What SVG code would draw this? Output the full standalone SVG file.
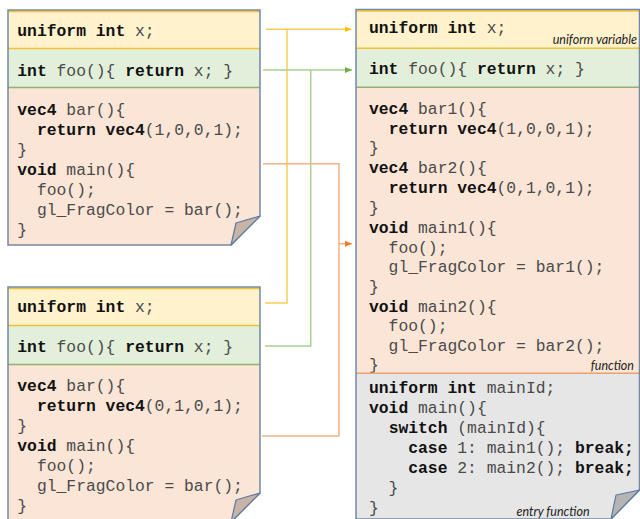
<svg xmlns="http://www.w3.org/2000/svg" width="640" height="519" viewBox="0 0 640 519">
  <defs>
    <style>
      .code { font-family: "Liberation Mono", "DejaVu Sans Mono", monospace; font-size: 16.35px; fill: #4a4a4a; }
      .code .k { font-weight: bold; fill: #111; }
      .note { font-family: "Lato", "Liberation Sans", sans-serif; font-style: italic; font-size: 12.5px; fill: #222; }
      .uni { fill: #fff2cc; }
      .fn { fill: #e2efda; }
      .body { fill: #fbe5d6; }
      .entry { fill: #e7e6e6; }
      .sepY { stroke: #f2c230; stroke-width: 1.5; fill: none; }
      .sepG { stroke: #8fb36e; stroke-width: 1.5; fill: none; }
      .sepO { stroke: #e9a173; stroke-width: 1.5; fill: none; }
      .outline { fill: none; stroke: #7488a4; stroke-width: 1.5; }
      .foldP { fill: #c8b4a7; stroke: #5b7aa2; stroke-width: 1.2; stroke-linejoin: round; }
      .foldG { fill: #b4b4b4; stroke: #5b7aa2; stroke-width: 1.2; stroke-linejoin: round; }
      .wY { stroke: #f9cd55; stroke-width: 1.5; fill: none; }
      .wG { stroke: #a9d08e; stroke-width: 1.5; fill: none; }
      .wO { stroke: #f4b183; stroke-width: 1.5; fill: none; }
    </style>
    <marker id="arrY" markerWidth="8" markerHeight="8" refX="7" refY="4" orient="auto" markerUnits="userSpaceOnUse">
      <path d="M0,1 L7,4 L0,7 Z" fill="#ffc000"/>
    </marker>
    <marker id="arrG" markerWidth="8" markerHeight="8" refX="7" refY="4" orient="auto" markerUnits="userSpaceOnUse">
      <path d="M0,1 L7,4 L0,7 Z" fill="#70ad47"/>
    </marker>
    <marker id="arrO" markerWidth="8" markerHeight="8" refX="7" refY="4" orient="auto" markerUnits="userSpaceOnUse">
      <path d="M0,1 L7,4 L0,7 Z" fill="#ed7d31"/>
    </marker>
  </defs>

  <rect width="640" height="519" fill="#ffffff"/>

  <!-- first shader: uniform, helper, body -->
  <g id="shaderA">
    <g id="shaderA-uniform">
      <rect class="uni" x="8" y="10" width="252" height="38.5"/>
      <line class="sepY" x1="8" y1="11.5" x2="260" y2="11.5"/>
      <text class="code" x="17.3" y="36" xml:space="preserve"><tspan class="k">uniform int</tspan> x;</text>
    </g>
    <g id="shaderA-foo">
      <rect class="fn" x="8" y="48.5" width="252" height="39"/>
      <line class="sepY" x1="8" y1="48.5" x2="260" y2="48.5"/>
      <text class="code" x="17.3" y="76" xml:space="preserve"><tspan class="k">int</tspan> foo(){ <tspan class="k">return</tspan> x; }</text>
    </g>
    <g id="shaderA-body">
      <path class="body" d="M8,87.5 H260 V216 L231,245 H8 Z"/>
      <line class="sepG" x1="8" y1="87.5" x2="260" y2="87.5"/>
      <text class="code" x="17.3" y="115" xml:space="preserve"><tspan class="k">vec4</tspan> bar(){</text>
      <text class="code" x="17.3" y="135" xml:space="preserve">  <tspan class="k">return vec4</tspan>(1,0,0,1);</text>
      <text class="code" x="17.3" y="155" xml:space="preserve">}</text>
      <text class="code" x="17.3" y="175" xml:space="preserve"><tspan class="k">void</tspan> main(){</text>
      <text class="code" x="17.3" y="195" xml:space="preserve">  foo();</text>
      <text class="code" x="17.3" y="215" xml:space="preserve">  gl_FragColor = bar();</text>
      <text class="code" x="17.3" y="235" xml:space="preserve">}</text>
    </g>
    <path class="outline" d="M8,10 H260 V216 L231,245 H8 Z"/>
    <path class="foldP" d="M260,216 L236,223 L231,245 Z"/>
  </g>

  <!-- second shader: same layout, different colour -->
  <g id="shaderB" transform="translate(0,277)">
    <g id="shaderB-uniform">
      <rect class="uni" x="8" y="10" width="252" height="38.5"/>
      <line class="sepY" x1="8" y1="11.5" x2="260" y2="11.5"/>
      <text class="code" x="17.3" y="34.5" xml:space="preserve"><tspan class="k">uniform int</tspan> x;</text>
    </g>
    <g id="shaderB-foo">
      <rect class="fn" x="8" y="48.5" width="252" height="39"/>
      <line class="sepY" x1="8" y1="48.5" x2="260" y2="48.5"/>
      <text class="code" x="17.3" y="74.5" xml:space="preserve"><tspan class="k">int</tspan> foo(){ <tspan class="k">return</tspan> x; }</text>
    </g>
    <g id="shaderB-body">
      <path class="body" d="M8,87.5 H260 V216 L231,245 H8 Z"/>
      <line class="sepG" x1="8" y1="87.5" x2="260" y2="87.5"/>
      <text class="code" x="17.3" y="114" xml:space="preserve"><tspan class="k">vec4</tspan> bar(){</text>
      <text class="code" x="17.3" y="134" xml:space="preserve">  <tspan class="k">return vec4</tspan>(0,1,0,1);</text>
      <text class="code" x="17.3" y="154" xml:space="preserve">}</text>
      <text class="code" x="17.3" y="174" xml:space="preserve"><tspan class="k">void</tspan> main(){</text>
      <text class="code" x="17.3" y="194" xml:space="preserve">  foo();</text>
      <text class="code" x="17.3" y="214" xml:space="preserve">  gl_FragColor = bar();</text>
      <text class="code" x="17.3" y="234" xml:space="preserve">}</text>
    </g>
    <path class="outline" d="M8,10 H260 V216 L231,245 H8 Z"/>
    <path class="foldP" d="M260,216 L236,223 L231,245 Z"/>
  </g>

  <!-- merged shader -->
  <g id="merged">
    <g id="merged-uniform">
      <rect class="uni" x="356" y="9.5" width="284" height="38.8"/>
      <line class="sepY" x1="356" y1="11" x2="640" y2="11"/>
      <text class="code" x="369" y="33" xml:space="preserve"><tspan class="k">uniform int</tspan> x;</text>
      <text class="note" x="637" y="43.5" text-anchor="end">uniform variable</text>
    </g>
    <g id="merged-foo">
      <rect class="fn" x="356" y="48.3" width="284" height="39"/>
      <line class="sepY" x1="356" y1="48.3" x2="640" y2="48.3"/>
      <text class="code" x="369" y="74" xml:space="preserve"><tspan class="k">int</tspan> foo(){ <tspan class="k">return</tspan> x; }</text>
    </g>
    <g id="merged-functions">
      <rect class="body" x="356" y="87.3" width="284" height="286"/>
      <line class="sepG" x1="356" y1="87.3" x2="640" y2="87.3"/>
      <text class="code" x="369" y="113.5" xml:space="preserve"><tspan class="k">vec4</tspan> bar1(){</text>
      <text class="code" x="369" y="133.5" xml:space="preserve">  <tspan class="k">return vec4</tspan>(1,0,0,1);</text>
      <text class="code" x="369" y="153" xml:space="preserve">}</text>
      <text class="code" x="369" y="173" xml:space="preserve"><tspan class="k">vec4</tspan> bar2(){</text>
      <text class="code" x="369" y="193" xml:space="preserve">  <tspan class="k">return vec4</tspan>(0,1,0,1);</text>
      <text class="code" x="369" y="212.5" xml:space="preserve">}</text>
      <text class="code" x="369" y="232.5" xml:space="preserve"><tspan class="k">void</tspan> main1(){</text>
      <text class="code" x="369" y="252.5" xml:space="preserve">  foo();</text>
      <text class="code" x="369" y="272" xml:space="preserve">  gl_FragColor = bar1();</text>
      <text class="code" x="369" y="291.5" xml:space="preserve">}</text>
      <text class="code" x="369" y="311.5" xml:space="preserve"><tspan class="k">void</tspan> main2(){</text>
      <text class="code" x="369" y="331" xml:space="preserve">  foo();</text>
      <text class="code" x="369" y="351" xml:space="preserve">  gl_FragColor = bar2();</text>
      <text class="code" x="369" y="370" xml:space="preserve">}</text>
      <text class="note" x="634" y="369.5" text-anchor="end">function</text>
    </g>
    <g id="merged-entry">
      <path class="entry" d="M356,373.3 H640 V490 L611,519 H356 Z"/>
      <line class="sepO" x1="356" y1="373.3" x2="640" y2="373.3"/>
      <text class="code" x="369" y="393" xml:space="preserve"><tspan class="k">uniform int</tspan> mainId;</text>
      <text class="code" x="369" y="413" xml:space="preserve"><tspan class="k">void</tspan> main(){</text>
      <text class="code" x="369" y="433" xml:space="preserve">  <tspan class="k">switch</tspan> (mainId){</text>
      <text class="code" x="369" y="453" xml:space="preserve">    <tspan class="k">case</tspan> 1: main1(); <tspan class="k">break;</tspan></text>
      <text class="code" x="369" y="473" xml:space="preserve">    <tspan class="k">case</tspan> 2: main2(); <tspan class="k">break;</tspan></text>
      <text class="code" x="369" y="493" xml:space="preserve">  }</text>
      <text class="code" x="369" y="513" xml:space="preserve">}</text>
      <text class="note" x="553" y="516" text-anchor="middle">entry function</text>
    </g>
    <path class="outline" d="M356,9.5 H639.5 V490 L611,519 H356 Z"/>
    <path class="foldG" d="M639.5,490 L616,495 L611,519 Z"/>
  </g>

  <!-- connectors -->
  <g id="connectors">
    <path class="wY" d="M266,29.3 H351.5" marker-end="url(#arrY)"/>
    <path class="wY" d="M287,29.3 V303 H265"/>
    <path class="wG" d="M263,70 H352" marker-end="url(#arrG)"/>
    <path class="wG" d="M310.7,70 V346 H265"/>
    <path class="wO" d="M263,163.7 H339 V436 H262"/>
    <path class="wO" d="M339,243.7 H352" marker-end="url(#arrO)"/>
  </g>
</svg>
